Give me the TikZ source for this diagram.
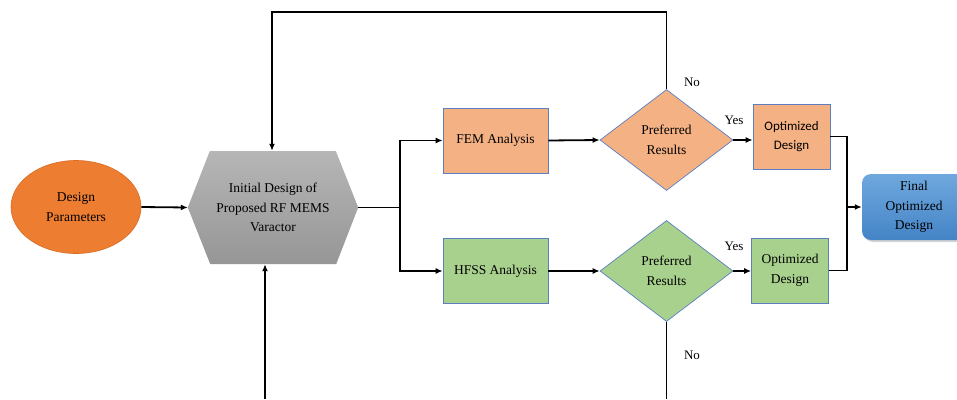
\documentclass[tikz,border=0pt]{standalone}
\usepackage{fontspec}
\setmainfont{Liberation Serif}
\newfontfamily\calib{Carlito}
\usetikzlibrary{shapes.geometric,arrows.meta,shadows}
\definecolor{orng}{HTML}{ED7D31}
\definecolor{orngd}{HTML}{D86A22}
\definecolor{peach}{HTML}{F4B183}
\definecolor{grn}{HTML}{A9D18E}
\definecolor{bordr}{HTML}{5B7FC0}
\definecolor{blueT}{HTML}{6FA8DE}
\definecolor{blueB}{HTML}{4484C6}
\tikzset{
  txt/.style={font=\fontsize{13.5}{19.5}\selectfont, align=center, text=black},
  conn/.style={draw=black, line width=1.8pt},
  arr/.style={conn, -{Latex[length=7pt,width=6pt]}},
  boxA/.style={txt, draw=bordr, line width=0.7pt, minimum width=105pt, minimum height=65pt, inner sep=0pt},
  boxO/.style={txt, draw=bordr, line width=0.7pt, minimum width=77pt, minimum height=65pt, inner sep=0pt},
  dia/.style={txt, diamond, draw=bordr, line width=0.7pt, minimum width=133pt, minimum height=101pt, inner sep=0pt, aspect=1.32},
  lbl/.style={font=\fontsize{13}{15}\selectfont, text=black},
}
\begin{document}
\begin{tikzpicture}[x=1pt,y=-1pt]
\useasboundingbox (0,0) rectangle (957,399);
\begin{scope}
\clip (0,0) rectangle (957,399);
% final box
\node[txt, rounded corners=9pt, minimum width=104pt, minimum height=66pt, top color=blueT, bottom color=blueB, draw=none,
  drop shadow={shadow xshift=2pt, shadow yshift=-2pt, opacity=0.35}] (fin) at (914,207) {Final\\Optimized\\Design};
\end{scope}
% ellipse
\node[txt, ellipse, fill=orng, draw=orngd, line width=0.6pt, minimum width=130pt, minimum height=93pt, inner sep=0pt] (dp) at (76,207) {Design\\Parameters};
% hexagon
\node[txt, minimum width=170pt, minimum height=113pt, inner sep=0pt] (hex) at (273,207.5) {};
\shade[top color={rgb,255:red,182;green,182;blue,182}, bottom color={rgb,255:red,150;green,150;blue,150}]
  (hex.west) -- ++(22,-56.5) -- ++(126,0) -- (hex.east) -- ++(-22,56.5) -- ++(-126,0) -- cycle;
\node[txt] at (hex.center) {Initial Design of\\Proposed RF MEMS\\Varactor};
% analysis boxes
\node[boxA, fill=peach] (fem) at (495.5,140.5) {FEM Analysis};
\node[boxA, fill=grn] (hfss) at (495.5,271) {HFSS Analysis};
\node[dia, fill=peach] (d1) at (666.5,140) {Preferred\\Results};
\node[dia, fill=grn] (d2) at (666.5,271) {Preferred\\Results};
\node[boxO, fill=peach, font=\calib\fontsize{13}{19.5}\selectfont] (o1) at (791.5,136.5) {Optimized\\Design};
\node[boxO, fill=grn] (o2) at (790,270.5) {Optimized\\Design};
% coordinates
\coordinate (split) at (400,207.5);
\coordinate (join) at (847,207);
\coordinate (topy) at (0,12);
\coordinate (b1) at (265,399);
\coordinate (b2) at (666.5,399);
% connectors
\draw[arr] (dp.east) -- (hex.west);
\draw[conn] (hex.east) -- (split);
\draw[arr] (split) |- (fem.west);
\draw[arr] (split) |- (hfss.west);
\draw[arr] (fem.east) -- (d1.west);
\draw[arr] (hfss.east) -- (d2.west);
\draw[arr] (d1.east) -- (d1.east -| o1.west);
\draw[arr] (d2.east) -- (d2.east -| o2.west);
\draw[conn] (o1.east) -| (join);
\draw[conn] (o2.east) -| (join);
\draw[arr] (join) -- (fin.west);
\draw[arr] (d1.north) -- (d1.north |- topy) -| ([xshift=-1pt]hex.north);
\draw[arr] (b1) -- (b1 |- hex.south);
\draw[conn] (d2.south) -- (b2);
% labels
\node[lbl] (no1) at (692,82) {No};
\node[lbl] (yes1) at (734,120) {Yes};
\node[lbl] (yes2) at (734,246) {Yes};
\node[lbl] (no2) at (692,355) {No};
\end{tikzpicture}
\end{document}
